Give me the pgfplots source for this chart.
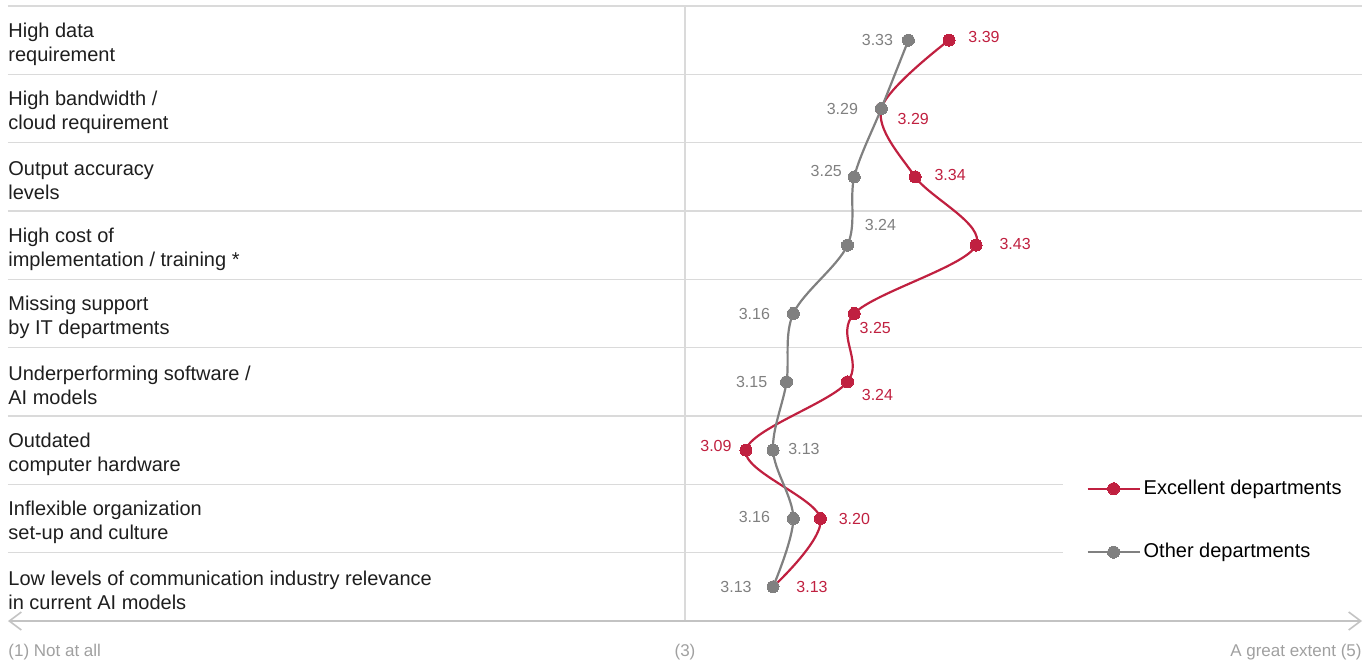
\documentclass[border=0pt]{standalone}
\usepackage{fontspec}
\setmainfont{Liberation Sans}
\usepackage{pgfplots}
\pgfplotsset{compat=1.18}
\usepackage{pgfplotstable}
\usetikzlibrary{arrows.meta}
\definecolor{exred}{RGB}{192,32,64}
\definecolor{otgray}{RGB}{128,128,128}
\definecolor{gridc}{RGB}{218,218,218}
\definecolor{axc}{RGB}{195,195,195}
\definecolor{txtgray}{RGB}{160,160,160}
\definecolor{cattext}{RGB}{30,30,30}

\pgfplotstableread{
x y
3.39 0
3.29 1
3.34 2
3.43 3
3.25 4
3.24 5
3.09 6
3.20 7
3.13 8
}\exc

\pgfplotstableread{
x y
3.33 0
3.29 1
3.25 2
3.24 3
3.16 4
3.15 5
3.13 6
3.16 7
3.13 8
}\oth

\pgfplotsset{
  lab/.style n args={4}{draw=none, mark=none, forget plot,
    point meta=x,
    nodes near coords={\pgfmathprintnumber[fixed,fixed zerofill,precision=2,assume math mode=true]{\pgfplotspointmeta}},
    every node near coord/.append style={anchor=#1, xshift=#2pt, yshift=#3pt, font=\fontsize{8}{9.6}\selectfont, text=#4, inner sep=0pt},
  }
}

\begin{document}
\begin{tikzpicture}
\begin{axis}[
  scale only axis, width=677pt, height=307.5pt,
  xmin=2, xmax=4, ymin=-0.5, ymax=8.5, y dir=reverse,
  hide axis, clip=false,
  legend cell align=left,
  legend style={draw=none, fill=none, at={(0.7962,0.1635)}, anchor=west,
    font=\fontsize{10}{12}\selectfont, inner sep=0pt, row sep=20pt,
    nodes={inner sep=1.5pt}},
  legend image code/.code={\draw[mark repeat=2,mark phase=2,#1] plot coordinates {(0pt,0pt) (13pt,0pt) (26pt,0pt)};},
]
% grid lines
\draw[gridc, line width=0.8pt] (axis cs:2,-0.5) -- (axis cs:4,-0.5);
\draw[gridc, line width=0.8pt] (axis cs:2,0.5) -- (axis cs:4,0.5);
\draw[gridc, line width=0.8pt] (axis cs:2,1.5) -- (axis cs:4,1.5);
\draw[gridc, line width=0.8pt] (axis cs:2,2.5) -- (axis cs:4,2.5);
\draw[gridc, line width=0.8pt] (axis cs:2,3.5) -- (axis cs:4,3.5);
\draw[gridc, line width=0.8pt] (axis cs:2,4.5) -- (axis cs:4,4.5);
\draw[gridc, line width=0.8pt] (axis cs:2,5.5) -- (axis cs:4,5.5);
\draw[gridc, line width=0.8pt] (axis cs:2,6.5) -- (axis cs:3.558,6.5);
\draw[gridc, line width=0.8pt] (axis cs:2,7.5) -- (axis cs:3.558,7.5);
\draw[gridc, line width=0.8pt] (axis cs:3,-0.5) -- (axis cs:3,8.5);
\draw[axc, line width=0.8pt, {Straight Barb[length=6pt,width=9pt]}-{Straight Barb[length=6pt,width=9pt]}] (axis cs:2,8.5) -- (axis cs:4,8.5);

% category labels
\begin{scope}[every node/.style={anchor=west, align=left, inner sep=0pt, text=cattext, font=\fontsize{10}{12}\selectfont, yshift=-2pt}]
\node at (axis cs:2,0) {High data\\requirement};
\node at (axis cs:2,1) {High bandwidth /\\cloud requirement};
\node at (axis cs:2,2) {Output accuracy\\levels};
\node at (axis cs:2,3) {High cost of\\implementation / training *};
\node at (axis cs:2,4) {Missing support\\by IT departments};
\node at (axis cs:2,5) {Underperforming software /\\AI models};
\node at (axis cs:2,6) {Outdated\\computer hardware};
\node at (axis cs:2,7) {Inflexible organization\\set-up and culture};
\node at (axis cs:2,8) {Low levels of communication industry relevance\\in current AI models};
\end{scope}

% bottom scale labels
\begin{scope}[every node/.style={inner sep=0pt, text=txtgray, font=\fontsize{8.5}{10}\selectfont, yshift=-17.5pt}]
\node[anchor=base west] at (axis cs:2,8.5) {(1) Not at all};
\node[anchor=base] at (axis cs:3,8.5) {(3)};
\node[anchor=base east] at (axis cs:4,8.5) {A great extent (5)};
\end{scope}

\addplot[exred, line width=1.1pt, smooth, tension=0.55, mark=*, mark size=3pt,
  mark options={solid, fill=exred, draw=exred, line width=0pt}]
  table[x=x,y=y]{\exc};
\addlegendentry{Excellent departments}

\addplot[otgray, line width=1.1pt, smooth, tension=0.55, mark=*, mark size=3pt,
  mark options={solid, fill=otgray, draw=otgray, line width=0pt}]
  table[x=x,y=y]{\oth};
\addlegendentry{Other departments}

% value labels, Excellent departments
\addplot[lab={west}{9.5}{1.5}{exred}] coordinates {(3.39,0)};
\addplot[lab={west}{8}{-5}{exred}] coordinates {(3.29,1)};
\addplot[lab={west}{9.5}{1}{exred}] coordinates {(3.34,2)};
\addplot[lab={west}{11.5}{0.5}{exred}] coordinates {(3.43,3)};
\addplot[lab={west}{2.5}{-7}{exred}] coordinates {(3.25,4)};
\addplot[lab={west}{7}{-6.5}{exred}] coordinates {(3.24,5)};
\addplot[lab={east}{-7}{2}{exred}] coordinates {(3.09,6)};
\addplot[lab={west}{9}{0}{exred}] coordinates {(3.20,7)};
\addplot[lab={west}{11.5}{0}{exred}] coordinates {(3.13,8)};
% value labels, Other departments
\addplot[lab={east}{-7.5}{0}{otgray}] coordinates {(3.33,0)};
\addplot[lab={east}{-11.5}{0}{otgray}] coordinates {(3.29,1)};
\addplot[lab={east}{-6}{3}{otgray}] coordinates {(3.25,2)};
\addplot[lab={west}{8.5}{10}{otgray}] coordinates {(3.24,3)};
\addplot[lab={east}{-11.5}{0}{otgray}] coordinates {(3.16,4)};
\addplot[lab={east}{-9.5}{0}{otgray}] coordinates {(3.15,5)};
\addplot[lab={west}{7.5}{0.5}{otgray}] coordinates {(3.13,6)};
\addplot[lab={east}{-11.5}{1}{otgray}] coordinates {(3.16,7)};
\addplot[lab={east}{-10.5}{0}{otgray}] coordinates {(3.13,8)};

\path ([xshift=-4pt,yshift=-19pt]axis cs:2,8.5) rectangle ([xshift=1.5pt,yshift=3pt]axis cs:4,-0.5);
\end{axis}
\end{tikzpicture}
\end{document}
